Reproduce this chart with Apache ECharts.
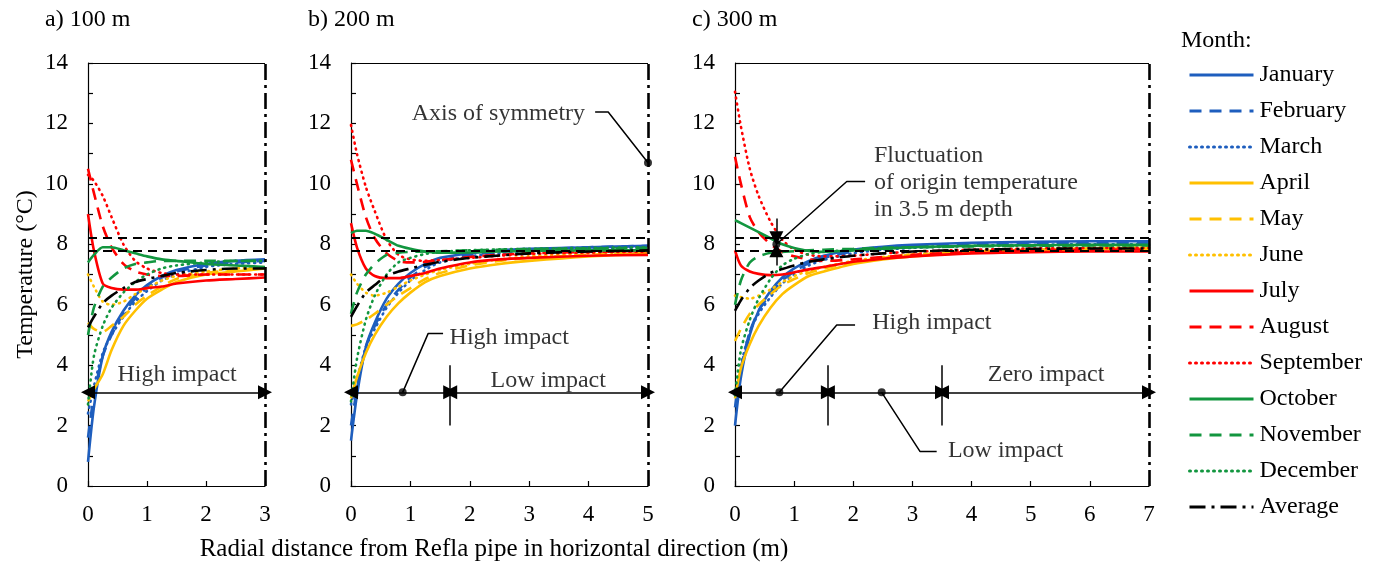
<!DOCTYPE html>
<html><head><meta charset="utf-8">
<script src="https://cdn.jsdelivr.net/npm/echarts@6/dist/echarts.min.js"></script>
<style>html,body{margin:0;padding:0;background:#fff}#c{width:1379px;height:566px}</style>
</head><body><div id="c"></div>
<script>
// ---------- DATA ----------
const months = ['January','February','March','April','May','June','July','August','September','October','November','December','Average'];
const panelTitles = ['a) 100 m','b) 200 m','c) 300 m'];
const xMax = [3, 5, 7];
const refLines = [7.8, 8.2];

// Panel a (100 m)
const xA = [0, 0.1, 0.25, 0.4, 0.6, 0.8, 1.0, 1.25, 1.5, 2.0, 2.5, 3.0];
const A_Jan = [0.8, 2.6, 4.3, 5.1, 5.8, 6.3, 6.65, 6.95, 7.15, 7.35, 7.45, 7.5];
const A_Feb = [1.6, 3.0, 4.3, 5.0, 5.7, 6.2, 6.55, 6.9, 7.1, 7.3, 7.4, 7.45];
const A_Mar = [2.4, 3.3, 4.4, 5.0, 5.6, 6.1, 6.45, 6.8, 7.0, 7.25, 7.35, 7.4];
const A_Apr = [2.8, 3.2, 3.7, 4.5, 5.3, 5.8, 6.2, 6.5, 6.75, 7.0, 7.1, 7.2];
const A_May = [5.4, 5.2, 5.1, 5.3, 5.6, 6.0, 6.3, 6.6, 6.85, 7.05, 7.15, 7.2];
const A_Jun = [7.0, 6.6, 6.1, 6.0, 6.1, 6.35, 6.55, 6.8, 6.95, 7.1, 7.2, 7.25];
const A_Jul = [9.0, 7.8, 6.7, 6.55, 6.5, 6.5, 6.55, 6.6, 6.7, 6.8, 6.85, 6.9];
const A_Aug = [10.5, 9.7, 8.6, 7.9, 7.35, 7.1, 7.0, 6.95, 6.95, 7.0, 7.0, 7.0];
const A_Sep = [10.3, 10.1, 9.6, 8.9, 8.0, 7.45, 7.2, 7.05, 7.0, 7.0, 7.0, 7.0];
const A_Oct = [7.4, 7.65, 7.9, 7.9, 7.8, 7.7, 7.6, 7.5, 7.45, 7.35, 7.3, 7.25];
const A_Nov = [5.0, 5.9, 6.6, 6.9, 7.2, 7.35, 7.4, 7.45, 7.45, 7.45, 7.45, 7.45];
const A_Dec = [2.7, 4.3, 5.3, 5.9, 6.4, 6.75, 7.0, 7.2, 7.3, 7.4, 7.45, 7.45];
const A_Avg = [5.25, 5.6, 6.05, 6.3, 6.55, 6.75, 6.85, 6.95, 7.05, 7.15, 7.2, 7.2];

// Panel b (200 m)
const xB = [0, 0.1, 0.25, 0.4, 0.6, 0.8, 1.0, 1.25, 1.5, 2.0, 2.5, 3.0, 4.0, 5.0];
const B_Jan = [1.5, 3.0, 4.6, 5.4, 6.2, 6.7, 7.05, 7.35, 7.55, 7.7, 7.8, 7.85, 7.9, 7.95];
const B_Feb = [2.0, 3.2, 4.6, 5.3, 6.0, 6.5, 6.9, 7.25, 7.45, 7.65, 7.75, 7.82, 7.9, 7.95];
const B_Mar = [2.7, 3.5, 4.6, 5.2, 5.9, 6.4, 6.8, 7.15, 7.4, 7.6, 7.7, 7.78, 7.85, 7.9];
const B_Apr = [2.9, 3.6, 4.4, 5.0, 5.6, 6.05, 6.4, 6.75, 6.95, 7.2, 7.35, 7.45, 7.6, 7.7];
const B_May = [5.3, 5.35, 5.5, 5.7, 6.0, 6.3, 6.55, 6.85, 7.05, 7.3, 7.45, 7.55, 7.65, 7.75];
const B_Jun = [7.0, 6.7, 6.4, 6.3, 6.4, 6.6, 6.8, 7.0, 7.15, 7.35, 7.5, 7.6, 7.7, 7.75];
const B_Jul = [8.7, 7.9, 7.2, 6.95, 6.88, 6.88, 6.95, 7.05, 7.2, 7.4, 7.5, 7.55, 7.62, 7.65];
const B_Aug = [10.8, 10.0, 8.9, 8.2, 7.7, 7.45, 7.4, 7.42, 7.47, 7.58, 7.65, 7.7, 7.75, 7.78];
const B_Sep = [11.95, 11.0, 9.9, 9.1, 8.15, 7.65, 7.5, 7.45, 7.48, 7.55, 7.62, 7.68, 7.73, 7.76];
const B_Oct = [8.37, 8.45, 8.45, 8.35, 8.15, 7.95, 7.85, 7.76, 7.72, 7.73, 7.76, 7.78, 7.8, 7.8];
const B_Nov = [5.7, 6.4, 7.0, 7.35, 7.65, 7.72, 7.75, 7.76, 7.77, 7.8, 7.82, 7.84, 7.86, 7.88];
const B_Dec = [2.8, 4.2, 5.5, 6.3, 7.0, 7.4, 7.55, 7.68, 7.75, 7.8, 7.83, 7.85, 7.88, 7.9];
const B_Avg = [5.6, 5.95, 6.4, 6.65, 6.95, 7.1, 7.2, 7.32, 7.42, 7.55, 7.63, 7.7, 7.76, 7.8];

// Panel c (300 m)
const xC = [0, 0.1, 0.25, 0.4, 0.6, 0.8, 1.0, 1.25, 1.5, 2.0, 2.5, 3.0, 4.0, 5.0, 6.0, 7.0];
const C_Jan = [2.0, 3.6, 5.0, 5.8, 6.45, 6.9, 7.2, 7.45, 7.62, 7.82, 7.92, 7.98, 8.05, 8.08, 8.1, 8.1];
const C_Feb = [2.6, 3.9, 5.1, 5.8, 6.35, 6.8, 7.1, 7.38, 7.55, 7.76, 7.87, 7.93, 8.0, 8.03, 8.05, 8.05];
const C_Mar = [3.0, 4.0, 5.1, 5.7, 6.25, 6.7, 7.0, 7.3, 7.48, 7.7, 7.82, 7.88, 7.95, 7.98, 8.0, 8.0];
const C_Apr = [2.9, 3.9, 4.7, 5.3, 5.9, 6.35, 6.65, 6.95, 7.1, 7.35, 7.5, 7.6, 7.72, 7.8, 7.84, 7.85];
const C_May = [4.8, 5.2, 5.7, 6.0, 6.35, 6.65, 6.85, 7.05, 7.2, 7.4, 7.55, 7.65, 7.75, 7.82, 7.86, 7.88];
const C_Jun = [6.3, 6.25, 6.2, 6.3, 6.5, 6.75, 6.95, 7.12, 7.25, 7.45, 7.58, 7.67, 7.77, 7.83, 7.87, 7.9];
const C_Jul = [7.8, 7.3, 7.1, 7.02, 6.98, 7.0, 7.07, 7.17, 7.25, 7.42, 7.52, 7.6, 7.7, 7.74, 7.76, 7.76];
const C_Aug = [10.9, 10.0, 8.9, 8.4, 8.0, 7.75, 7.6, 7.5, 7.45, 7.5, 7.58, 7.65, 7.75, 7.8, 7.82, 7.83];
const C_Sep = [13.05, 11.9, 10.5, 9.6, 8.75, 8.15, 7.82, 7.65, 7.6, 7.62, 7.7, 7.75, 7.82, 7.86, 7.88, 7.88];
const C_Oct = [8.8, 8.7, 8.55, 8.4, 8.2, 8.0, 7.88, 7.78, 7.75, 7.8, 7.85, 7.9, 7.95, 7.97, 7.98, 7.98];
const C_Nov = [6.0, 6.8, 7.4, 7.6, 7.72, 7.75, 7.77, 7.8, 7.82, 7.85, 7.88, 7.9, 7.93, 7.95, 7.96, 7.96];
const C_Dec = [3.0, 4.5, 5.5, 6.2, 6.85, 7.3, 7.52, 7.68, 7.75, 7.82, 7.87, 7.9, 7.94, 7.96, 7.97, 7.97];
const C_Avg = [5.8, 6.15, 6.55, 6.8, 7.05, 7.18, 7.3, 7.42, 7.5, 7.62, 7.7, 7.76, 7.82, 7.85, 7.86, 7.86];

// Annotations (data units)
const arrowY = 3.1;
const segA = [[0, 3]];
const segB = [[0, 1.67], [1.67, 5]];
const segC = [[0, 1.57], [1.57, 3.5], [3.5, 7]];
const sepB = [1.67];
const sepC = [1.57, 3.5];

// ---------- CHART ----------
const FONT = 'Liberation Serif';
const xsAll = [xA, xB, xC];
const dataAll = [
  [A_Jan,A_Feb,A_Mar,A_Apr,A_May,A_Jun,A_Jul,A_Aug,A_Sep,A_Oct,A_Nov,A_Dec,A_Avg],
  [B_Jan,B_Feb,B_Mar,B_Apr,B_May,B_Jun,B_Jul,B_Aug,B_Sep,B_Oct,B_Nov,B_Dec,B_Avg],
  [C_Jan,C_Feb,C_Mar,C_Apr,C_May,C_Jun,C_Jul,C_Aug,C_Sep,C_Oct,C_Nov,C_Dec,C_Avg]
];
const palette = ['#1E5EBE', '#FFC000', '#FF0000', '#12963F'];
function styleFor(i) {
  if (i === 12) return { color: '#000', width: 2.6, type: [16, 6, 3, 6] };
  const color = palette[Math.floor(i / 3)];
  const k = i % 3;
  if (k === 0) return { color, width: 2.6, type: 'solid' };
  if (k === 1) return { color, width: 2.6, type: [12, 8] };
  return { color, width: 2.6, type: [1, 5], cap: 'round' };
}

const gridsPx = [
  { left: 88, width: 177 },
  { left: 351, width: 297 },
  { left: 735, width: 414 }
];
const grid = gridsPx.map(g => ({ left: g.left, width: g.width, top: 63, height: 423, containLabel: false }));

const xAxis = xMax.map((mx, p) => ({
  type: 'value', gridIndex: p, min: 0, max: mx, interval: 1,
  axisLine: { show: true, lineStyle: { color: '#000', width: 1.2 } },
  axisTick: { show: true, inside: true, length: 5, lineStyle: { color: '#000', width: 1.2 } },
  axisLabel: { color: '#000', fontFamily: FONT, fontSize: 23, margin: 17 },
  splitLine: { show: false }
}));
const yAxis = xMax.map((mx, p) => ({
  type: 'value', gridIndex: p, min: 0, max: 14, interval: 2,
  name: p === 0 ? 'Temperature (°C)' : '',
  nameLocation: 'middle', nameRotate: 90, nameGap: 50,
  nameTextStyle: { color: '#000', fontFamily: FONT, fontSize: 24 },
  axisLine: { show: true, lineStyle: { color: '#000', width: 1.2 } },
  axisTick: { show: true, inside: true, length: 5, lineStyle: { color: '#000', width: 1.2 } },
  minorTick: { show: true, splitNumber: 2, length: 5, lineStyle: { color: '#000', width: 1.2 } },
  axisLabel: { color: '#000', fontFamily: FONT, fontSize: 23, margin: 20 },
  splitLine: { show: false }, minorSplitLine: { show: false }
}));

const series = [];
const txt = { color: '#000', fontFamily: FONT, fontSize: 24 };

// Month curves
xsAll.forEach((xs, p) => {
  dataAll[p].forEach((vals, i) => {
    series.push({
      name: months[i], type: 'line', xAxisIndex: p, yAxisIndex: p,
      data: xs.map((x, k) => [x, vals[k]]),
      symbol: 'none', smooth: 0.25, z: 3, silent: true,
      lineStyle: styleFor(i), itemStyle: { color: styleFor(i).color }
    });
  });
});

// Frames, reference lines, arrows
const segsAll = [segA, segB, segC];
const sepsAll = [[], sepB, sepC];
const solidBlack = { color: '#000', width: 1.5, type: 'solid' };
const AS = 14;
xMax.forEach((mx, p) => {
  const ml = [];
  refLines.forEach(v => ml.push({ yAxis: v, lineStyle: { color: '#000', width: 2, type: [9, 6] } }));
  ml.push({ yAxis: 14, lineStyle: { color: '#000', width: 1.2, type: 'solid' } });
  ml.push({ xAxis: mx, lineStyle: { color: '#000', width: 2.6, type: [16, 5, 3, 5] } });
  segsAll[p].forEach(s => ml.push([
    { coord: [s[0], arrowY], symbol: 'triangle', symbolSize: AS },
    { coord: [s[1], arrowY], symbol: 'triangle', symbolSize: AS, lineStyle: solidBlack }
  ]));
  sepsAll[p].forEach(s => ml.push([
    { coord: [s, 2.0], symbol: 'none' },
    { coord: [s, 4.0], symbol: 'none', lineStyle: solidBlack }
  ]));
  if (p === 2) {
    ml.push([{ coord: [0.7, 8.85], symbol: 'none' }, { coord: [0.7, 8.2], symbol: 'triangle', symbolSize: AS, lineStyle: solidBlack }]);
    ml.push([{ coord: [0.7, 7.3], symbol: 'none' }, { coord: [0.7, 7.8], symbol: 'triangle', symbolSize: AS, lineStyle: solidBlack }]);
  }
  series.push({
    name: 'frame' + p, type: 'line', xAxisIndex: p, yAxisIndex: p, data: [], silent: true, z: 5,
    markLine: { silent: true, animation: false, symbol: ['none', 'none'], label: { show: false },
      lineStyle: solidBlack, data: ml }
  });
});

// Leader lines
const leaders = [
  { p: 1, pts: [[0.87, 3.1], [1.30, 5.05], [1.55, 5.05]] },
  { p: 1, pts: [[5, 10.7], [4.33, 12.38], [4.11, 12.38]] },
  { p: 2, pts: [[0.75, 3.1], [1.72, 5.33], [2.03, 5.33]] },
  { p: 2, pts: [[2.48, 3.1], [3.13, 1.14], [3.41, 1.14]] },
  { p: 2, pts: [[0.7, 8.0], [1.89, 10.08], [2.2, 10.08]] }
];
leaders.forEach((l, i) => series.push({
  name: 'leader' + i, type: 'line', xAxisIndex: l.p, yAxisIndex: l.p, data: l.pts,
  symbol: 'none', silent: true, z: 6, lineStyle: { color: '#000', width: 1.5 }
}));
const dots = [[1, [[0.87, 3.1], [5, 10.7]]], [2, [[0.75, 3.1], [2.48, 3.1], [0.7, 8.0]]]];
dots.forEach(([p, pts]) => series.push({
  name: 'dots' + p, type: 'scatter', xAxisIndex: p, yAxisIndex: p, data: pts,
  symbolSize: 8, silent: true, z: 7, itemStyle: { color: '#000' }
}));

// Text annotations
const texts = [
  { p: 0, x: 1.51, y: 3.7, t: 'High impact', pos: 'inside' },
  { p: 1, x: 1.66, y: 4.92, t: 'High impact', pos: 'right' },
  { p: 1, x: 3.32, y: 3.47, t: 'Low impact', pos: 'inside' },
  { p: 1, x: 3.94, y: 12.33, t: 'Axis of symmetry', pos: 'left' },
  { p: 2, x: 2.32, y: 5.4, t: 'High impact', pos: 'right' },
  { p: 2, x: 5.26, y: 3.7, t: 'Zero impact', pos: 'inside' },
  { p: 2, x: 3.6, y: 1.16, t: 'Low impact', pos: 'right' },
  { p: 2, x: 2.35, y: 10.04, t: 'Fluctuation\nof origin temperature\nin 3.5 m depth', pos: 'right' }
];
texts.forEach((t, i) => series.push({
  name: 'text' + i, type: 'scatter', xAxisIndex: t.p, yAxisIndex: t.p,
  data: [[t.x, t.y]], symbolSize: 0, silent: true, z: 8,
  label: { show: true, position: t.pos, distance: 0, formatter: t.t, lineHeight: 27,
    align: t.pos === 'right' ? 'left' : (t.pos === 'left' ? 'right' : 'center'), ...txt }
}));

const titleLefts = [45, 308, 692];
const title = panelTitles.map((t, p) => ({ text: t, left: titleLefts[p], top: 8, padding: 0,
  textStyle: { ...txt, fontWeight: 'normal' } }));
title.push({ text: 'Radial distance from Refla pipe in horizontal direction (m)', left: 494, textAlign: 'center',
  top: 537, padding: 0, textStyle: { ...txt, fontSize: 25, fontWeight: 'normal' } });
title.push({ text: 'Month:', left: 1181, top: 29, padding: 0, textStyle: { ...txt, fontWeight: 'normal' } });

const chart = echarts.init(document.getElementById('c'), null, { renderer: 'canvas' });
chart.setOption({
  animation: false,
  backgroundColor: '#fff',
  title, grid, xAxis, yAxis, series,
  legend: {
    data: months, orient: 'vertical', left: 1188, top: 63,
    itemWidth: 64, itemHeight: 24, itemGap: 12, padding: 0,
    itemStyle: { color: 'rgba(0,0,0,0)', borderWidth: 0, opacity: 0 },
    lineStyle: { width: 3 },
    textStyle: { ...txt, padding: [0, 0, 0, 1] }, selectedMode: false
  }
});
</script></body></html>
